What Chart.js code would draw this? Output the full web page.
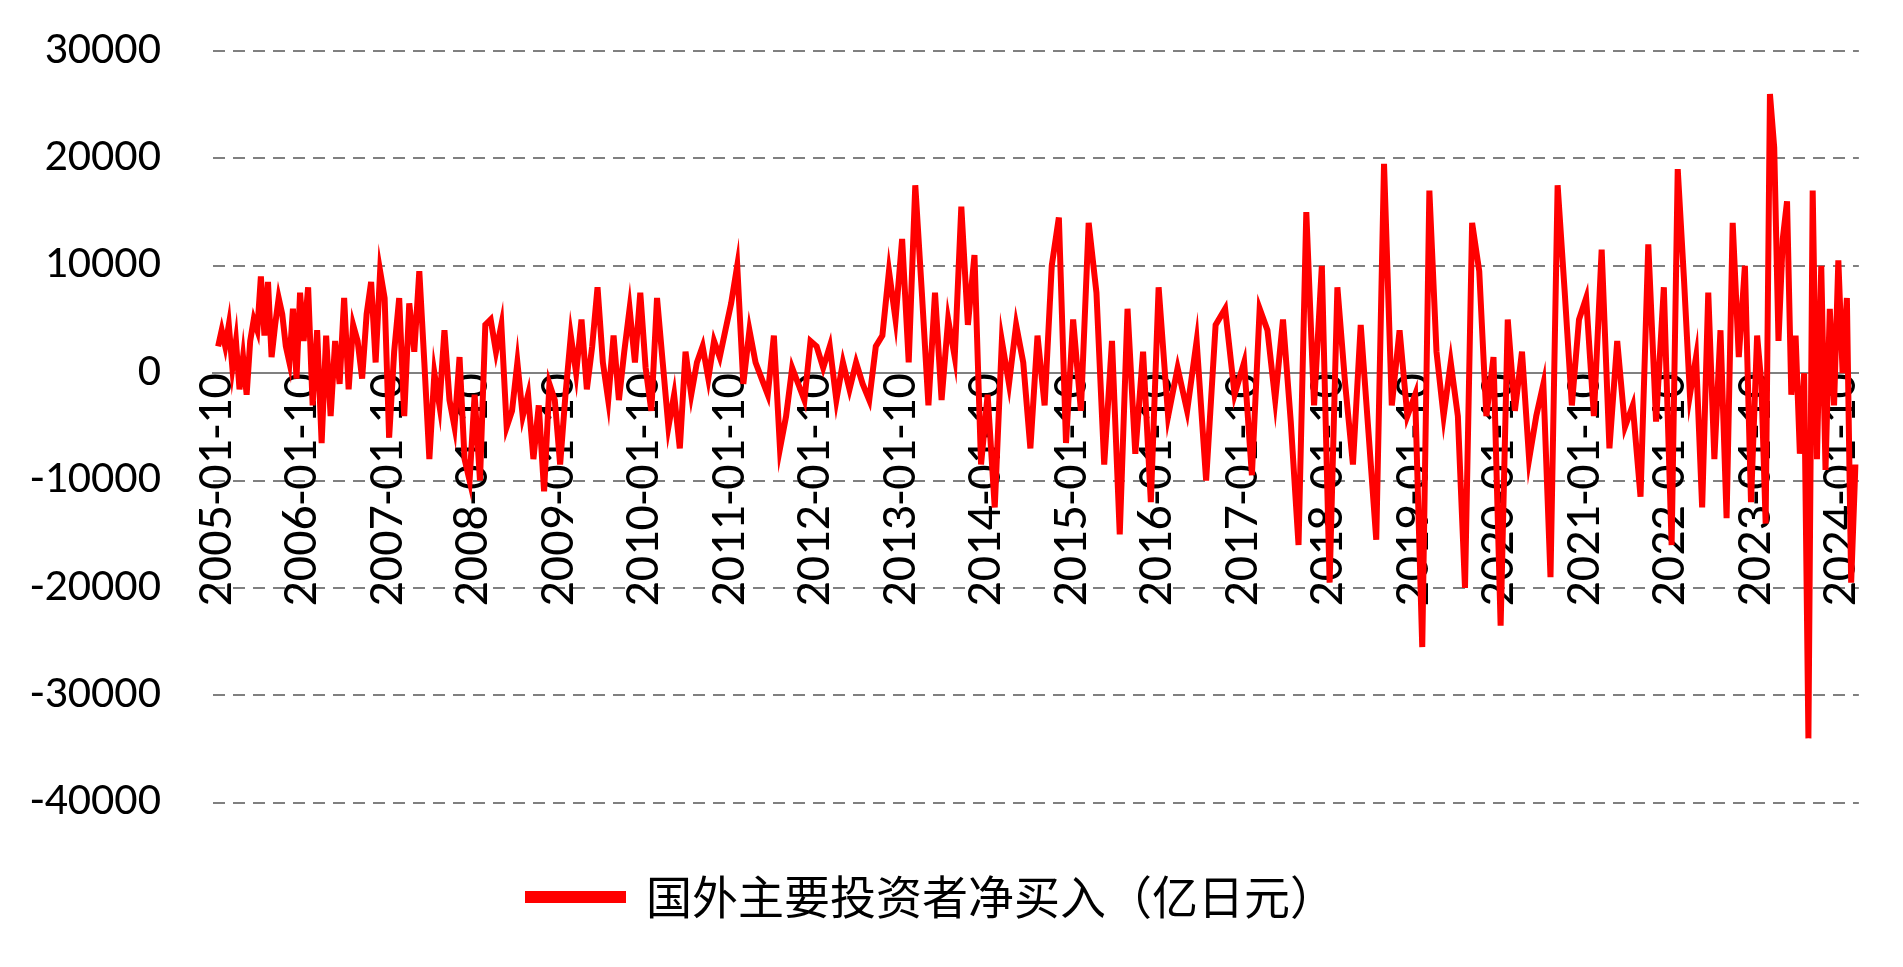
<!DOCTYPE html>
<html>
<head>
<meta charset="utf-8">
<script src="https://cdn.jsdelivr.net/npm/chart.js@4"></script>
<style>
  html, body { margin: 0; padding: 0; background: #fff; }
</style>
</head>
<body>
<canvas id="chart" width="1903" height="967"></canvas>
<script>
// Net purchases by foreign investors (100 million yen), readings per year, evenly spaced in each year
const seriesLabel = "国外主要投资者净买入（亿日元）";
const years = [2005, 2006, 2007, 2008, 2009, 2010, 2011, 2012, 2013, 2014, 2015, 2016, 2017, 2018, 2019, 2020, 2021, 2022, 2023, 2024];
const y2005 = [2500, 4000, 2500, 4500, 500, 3000, -1500, 1500, -2000, 3000, 5000, 4000, 9000, 3500, 8500, 1500, 4500, 7000, 5500, 2500, 1000, 6000, -500, 7500];
const y2006 = [3000, 8000, -3000, 4000, -6500, 3500, -4000, 3000, -1000, 7000, -1500, 4500, 3000, -500, 5500, 8500, 1000, 9500, 7000];
const y2007 = [-6000, 2000, 7000, -4000, 6500, 2000, 9500, 1000, -8000, 0, -3000, 4000, -2500, -5000, 1500, -8000, -10000];
const y2008 = [-2000, -10000, 4500, 5000, 2000, 4500, -5000, -3500, 1000, -4000, -2000, -8000, -3000, -11000, -1000, -2500];
const y2009 = [-8500, -2000, 3500, 0, 5000, -1500, 2500, 8000, 1000, -2500, 3500, -2500, 2000, 6000, 1000, 7500];
const y2010 = [500, -3500, 7000, 1000, -5000, -2000, -7000, 2000, -2000, 1000, 2500, -500, 3000, 1500, 4000];
const y2011 = [6500, 10000, -1000, 4000, 1000, -500, -2000, 3500, -7000, -4000, 500, -1000, -2500, 3000];
const y2012 = [2500, 500, 2500, -2500, 1000, -1500, 1000, -1000, -2500, 2500, 3500, 9500, 5000];
const y2013 = [12500, 1000, 17500, 7500, -3000, 7500, -2500, 5000, 1500, 15500, 4500, 11000, -8500];
const y2014 = [-2000, -12500, 3000, -1000, 4500, 1000, -7000, 3500, -3000, 10000, 14500, -6500];
const y2015 = [5000, -3500, 14000, 7500, -8500, 3000, -15000, 6000, -7500, 2000, -12000];
const y2016 = [8000, -4000, 500, -3500, 3000, -10000, 4500, 6000, -2000];
const y2017 = [1000, -9500, 6000, 4000, -2500, 5000, -4500, -16000, 15000, -3000, 10000];
const y2018 = [-19500, 8000, -1000, -8500, 4500, -5500, -15500, 19500, -3000, 4000, -4000];
const y2019 = [-2000, -25500, 17000, 2000, -4000, 1000, -4000, -20000, 14000, 9500, -4000, 1500];
const y2020 = [-23500, 5000, -3500, 2000, -8000, -4000, -1000, -19000, 17500, 7500, -3000, 5000];
const y2021 = [7000, -4000, 11500, -7000, 3000, -5000, -3000, -11500, 12000, -4500, 8000];
const y2022 = [-16000, 19000, 9000, -2000, 1500, -12500, 7500, -8000, 4000, -13500, 14000, 1500, 10000, -12000];
const y2023 = [3500, -1000, -14000, 26000, 21000, 3000, 12500, 16000, -2000, 3500, -7500, 0, -34000, 17000, -8000, 10000, -9000, 6000, -3000, 10500];
const y2024 = [0, 7000, -19500, -8500];
const yearValues = [y2005, y2006, y2007, y2008, y2009, y2010, y2011, y2012, y2013, y2014, y2015, y2016, y2017, y2018, y2019, y2020, y2021, y2022, y2023, y2024];
const yearSpan = [1, 1, 1, 1, 1, 1, 1, 1, 1, 1, 1, 1, 1, 1, 1, 1, 1, 1, 1, 0.2];
const yTicks = [30000, 20000, 10000, 0, -10000, -20000, -30000, -40000];

const points = [];
years.forEach((yr, i) => {
    const vals = yearValues[i];
    vals.forEach((v, j) => {
        points.push({ x: yr + 0.01 + j * yearSpan[i] / vals.length, y: v });
    });
});

const font = "Carlito, Calibri, 'Liberation Sans', 'Noto Sans', sans-serif";

new Chart(document.getElementById("chart").getContext("2d"), {
    type: "line",
    data: {
        datasets: [{
            label: seriesLabel,
            data: points,
            borderColor: "#ff0000",
            backgroundColor: "#ff0000",
            borderWidth: 6,
            pointRadius: 0,
            tension: 0
        }]
    },
    options: {
        responsive: false,
        animation: false,
        layout: { padding: { left: 0, right: 39, top: 51, bottom: 37 } },
        plugins: {
            legend: {
                position: "bottom",
                title: { display: true, text: " ", font: { size: 1 }, padding: { top: 0, bottom: 60 } },
                labels: {
                    font: { size: 46, family: "'Noto Sans CJK SC', " + font },
                    color: "#000",
                    boxWidth: 95,
                    boxHeight: 6,
                    padding: 10
                }
            },
            tooltip: { enabled: false }
        },
        scales: {
            x: {
                type: "linear",
                min: 2004.95,
                max: 2024.2,
                position: { y: 0 },
                afterBuildTicks: axis => {
                    axis.ticks = years.map(y => ({ value: y + 0.01 }));
                },
                ticks: {
                    callback: v => Math.round(v) + "-01-10",
                    maxRotation: 90,
                    minRotation: 90,
                    autoSkip: false,
                    color: "#000",
                    padding: 0,
                    font: { size: 50, family: font }
                },
                grid: { display: false, tickLength: 0 },
                border: { color: "#808080", width: 2 }
            },
            y: {
                min: -40000,
                max: 30000,
                afterBuildTicks: axis => {
                    axis.ticks = yTicks.map(v => ({ value: v }));
                },
                afterFit: axis => {
                    axis.width = 213;
                    axis.paddingTop = 0;
                    axis.paddingBottom = 0;
                },
                ticks: {
                    callback: v => String(v),
                    color: "#000",
                    padding: 52,
                    font: { size: 46, family: font }
                },
                grid: { color: "#808080", lineWidth: 2, drawTicks: false },
                border: { display: false, dash: [12, 8] }
            }
        }
    }
});
</script>
</body>
</html>
